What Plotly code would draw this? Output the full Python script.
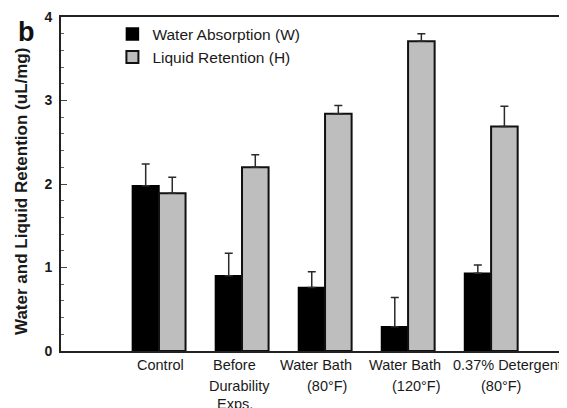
import plotly.graph_objects as go

# category labels, one list of lines per category
categories = [["Control"],
              ["Before", "Durability", "Exps."],
              ["Water Bath", "(80°F)"],
              ["Water Bath", "(120°F)"],
              ["0.37% Detergent", "(80°F)"]]
positions = [1, 2, 3, 4, 5]
water = [1.98, 0.90, 0.76, 0.29, 0.93]
water_err = [0.26, 0.27, 0.19, 0.35, 0.10]
liquid = [1.89, 2.20, 2.84, 3.71, 2.69]
liquid_err = [0.19, 0.15, 0.10, 0.09, 0.24]

# per-line horizontal nudges (px) to mimic the original label placement
label_shift = [[2], [-8, -3, -7], [-9, 2], [-3, 8], [16, 10]]
line_offsets = [14, 35, 53]

font = "Liberation Sans, Arial, sans-serif"
# page body has an 8px margin; size the figure so it fills the window
W, H = 559, 400
L, R, T, B = 53, 2, 9, 57
PW, PH = W - L - R, H - T - B

fig = go.Figure()
fig.add_trace(go.Bar(
    x=positions, y=water, name="Water Absorption (W)",
    marker=dict(color="#000000", line=dict(color="#000000", width=1.5)),
    error_y=dict(type="data", array=water_err, arrayminus=[0]*5, symmetric=False,
                 color="#2a2a2a", thickness=1.5, width=4),
))
fig.add_trace(go.Bar(
    x=positions, y=liquid, name="Liquid Retention (H)",
    marker=dict(color="#bebebe", line=dict(color="#111111", width=2)),
    error_y=dict(type="data", array=liquid_err, arrayminus=[0]*5, symmetric=False,
                 color="#2a2a2a", thickness=1.5, width=4),
))

annotations = []
for p, lines, shifts in zip(positions, categories, label_shift):
    for i, (txt, sh) in enumerate(zip(lines, shifts)):
        annotations.append(dict(
            text=txt, x=p, xref="x", y=0, yref="paper",
            xanchor="center", yanchor="middle", xshift=sh,
            yshift=-line_offsets[i], showarrow=False,
            font=dict(size=14.5, color="#1a1a1a", family=font)))

annotations.append(dict(text="<b>b</b>", xref="paper", yref="paper",
                        x=(8 - L) / PW, y=1 + 2 / PH,
                        xanchor="left", yanchor="top", showarrow=False,
                        font=dict(size=27, color="#111111", family=font)))
annotations.append(dict(text="<b>Water and Liquid Retention (uL/mg)</b>",
                        xref="paper", yref="paper", textangle=-90,
                        x=(13 - L) / PW, y=1 - (184 - T) / PH,
                        xanchor="center", yanchor="middle", showarrow=False,
                        font=dict(size=17, color="#1a1a1a", family=font)))

fig.update_layout(
    width=W, height=H,
    margin=dict(l=L, r=R, t=T, b=B, autoexpand=False),
    paper_bgcolor="white", plot_bgcolor="white",
    barmode="group", bargap=0.36, bargroupgap=0,
    font=dict(family=font, size=13, color="#1a1a1a"),
    showlegend=True,
    legend=dict(x=0.102, y=0.999, xanchor="left", yanchor="top",
                bgcolor="rgba(0,0,0,0)", font=dict(size=15.5, color="#1a1a1a"),
                itemwidth=30),
    xaxis=dict(range=[-0.18, 5.89], tickmode="array", tickvals=positions,
               showticklabels=False, ticks="", showgrid=False, zeroline=False,
               automargin=False,
               showline=True, linecolor="#222222", linewidth=2, mirror=True),
    yaxis=dict(range=[0, 4], tickmode="array", tickvals=[0, 1, 2, 3, 4],
               automargin=False, ticklabelstandoff=4,
               ticks="inside", ticklen=6, tickwidth=1.2, tickcolor="#444444",
               minor=dict(tickmode="linear", dtick=0.2, ticks="inside", ticklen=3,
                          tickcolor="#666666", tickwidth=1),
               showgrid=False, zeroline=False,
               showline=True, linecolor="#222222", linewidth=2, mirror=True,
               tickfont=dict(size=14, color="#1a1a1a", weight="bold")),
    annotations=annotations,
)

fig.write_html("out.html")
